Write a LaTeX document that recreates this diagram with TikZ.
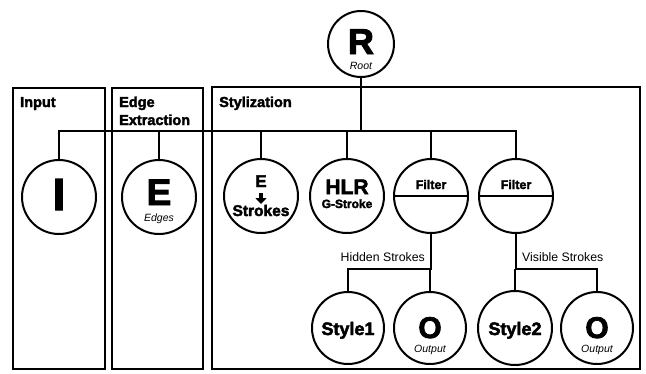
\documentclass[tikz,border=0pt]{standalone}
\usepackage{fontspec}
\setmainfont{Liberation Sans}
\newfontfamily\heavy[FakeBold=2.5]{Liberation Sans Bold}
\usetikzlibrary{arrows.meta,calc}

\tikzset{
  stage/.style={draw, line width=1.2pt},
  title/.style={anchor=base west, inner sep=0pt, font=\heavy\fontsize{14.5}{17}\selectfont},
  proc/.style={draw, circle, line width=2pt, minimum size=#1, inner sep=0pt},
  proc/.default=74pt,
  wire/.style={line width=2.6pt},
  txt/.style={anchor=base, inner sep=0pt},
  sub/.style={txt, font=\itshape\fontsize{10.5}{12}\selectfont},
  edgelbl/.style={inner sep=0pt, font=\fontsize{12.3}{14}\selectfont}
}

\begin{document}
\begin{tikzpicture}[x=1pt, y=-1pt]
\useasboundingbox (0,0) rectangle (646,373);

% stage frames
\draw[stage] (13,88) rectangle (105,369);
\draw[stage] (112,88) rectangle (203,369);
\draw[stage] (212,87) rectangle (640,369);
\node[title] (tIn) at (20,107) {Input};
\node[title] (tEdge) at (119,107) {Edge};
\node[title] (tEdge2) at (119,125) {Extraction};
\node[title] (tSty) at (219,107) {Stylization};

% nodes
\node[proc=66pt] (R) at (361,44) {};
\node[proc] (I) at (59,197) {};
\node[proc] (E) at (159,197) {};
\node[proc] (ES) at (261,196) {};
\node[proc] (HLR) at (347,196) {};
\node[proc] (F1) at (431,196) {};
\node[proc] (F2) at (516,196) {};
\node[proc=72pt] (S1) at (348,328) {};
\node[proc=72pt] (O1) at (430,328) {};
\node[proc=74pt] (S2) at (515,328) {};
\node[proc=72pt] (O2) at (597,328) {};

% node texts
\node[txt, font=\heavy\fontsize{36}{40}\selectfont] (Rl) at ($(R)+(0,10)$) {R};
\node[sub] (Rs) at ($(R)+(0,25)$) {Root};
\node[txt, font=\heavy\fontsize{45}{48}\selectfont] (Il) at ($(I)+(0,13)$) {I};
\node[txt, font=\heavy\fontsize{37}{40}\selectfont] (El) at ($(E)+(0,8)$) {E};
\node[sub] (Es) at ($(E)+(0,24)$) {Edges};
\node[txt, font=\heavy\fontsize{17}{19}\selectfont] (ESe) at ($(ES)+(0,-9)$) {E};
\draw[line width=3.5pt, -{Triangle[width=11pt,length=6pt]}] ($(ES)+(0,-3)$) -- ($(ES)+(0,8)$);
\node[txt, font=\heavy\fontsize{15.5}{17}\selectfont] (ESs) at ($(ES)+(0,20)$) {Strokes};
\node[txt, font=\heavy\fontsize{21}{23}\selectfont] (Hl) at ($(HLR)+(0,-2)$) {HLR};
\node[txt, font=\heavy\fontsize{12}{14}\selectfont] (Hs) at ($(HLR)+(0,12)$) {G-Stroke};
\draw[line width=2pt] (F1.west) -- (F1.east);
\draw[line width=2pt] (F2.west) -- (F2.east);
\node[txt, font=\heavy\fontsize{12.5}{14}\selectfont] (F1l) at ($(F1)+(0,-7)$) {Filter};
\node[txt, font=\heavy\fontsize{12.5}{14}\selectfont] (F2l) at ($(F2)+(0,-7)$) {Filter};
\node[txt, font=\heavy\fontsize{18}{20}\selectfont] (S1l) at ($(S1)+(0,7)$) {Style1};
\node[txt, font=\heavy\fontsize{18}{20}\selectfont] (S2l) at ($(S2)+(0,7)$) {Style2};
\node[txt, font=\heavy\fontsize{30}{33}\selectfont] (O1l) at ($(O1)+(0,10)$) {O};
\node[sub] (O1s) at ($(O1)+(0,24)$) {Output};
\node[txt, font=\heavy\fontsize{30}{33}\selectfont] (O2l) at ($(O2)+(0,10)$) {O};
\node[sub] (O2s) at ($(O2)+(0,24)$) {Output};

% main bus
\coordinate (bus) at (0,131);
\draw[wire] (R.south) -- (R.south |- bus);
\draw[wire] (I.north) -- (I.north |- bus) -- (F2.north |- bus) -- (F2.north);
\foreach \n in {E,ES,HLR,F1} \draw[wire] (\n.north) -- (\n.north |- bus);

% filter outputs
\coordinate (sbus) at (0,269);
\draw[wire] (F1.south) -- (F1.south |- sbus) -- (S1.north |- sbus) -- (S1.north);
\draw[wire] (O1.north) -- (O1.north |- sbus);
\draw[wire] (F2.south) -- (F2.south |- sbus) -- (O2.north |- sbus) -- (O2.north);
\draw[wire] (S2.north) -- (S2.north |- sbus);
\node[edgelbl, anchor=base east] (hid) at ($(F1.south |- sbus)+(-6,-8)$) {Hidden Strokes};
\node[edgelbl, anchor=base west] (vis) at ($(F2.south |- sbus)+(6,-8)$) {Visible Strokes};
\end{tikzpicture}
\end{document}
